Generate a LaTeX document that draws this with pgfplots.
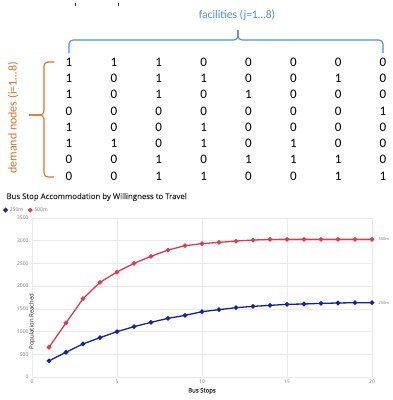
\documentclass[border=0pt]{standalone}
\usepackage{pgfplots}
\pgfplotsset{compat=1.18}
\usepackage{pgfplotstable}
\usepackage{fontspec}
\setmainfont{Carlito}
\newfontfamily\chartfont{Open Sans}
\newfontfamily\titlefont[FakeBold=0.6]{Open Sans}
\definecolor{facblue}{RGB}{74,144,210}
\definecolor{demor}{RGB}{221,113,40}
\definecolor{sblue}{RGB}{18,35,158}
\definecolor{sred}{RGB}{222,60,76}
\definecolor{txtgray}{RGB}{120,120,120}
\definecolor{titlegray}{RGB}{45,45,45}

\pgfplotstableread{
x y
1 355
2 545
3 728
4 866
5 998
6 1108
7 1203
8 1291
9 1357
10 1438
11 1482
12 1526
13 1555
14 1577
15 1600
16 1607
17 1621
18 1629
19 1636
20 1636
}\dataA

\pgfplotstableread{
x y
1 655
2 1190
3 1724
4 2084
5 2311
6 2502
7 2656
8 2795
9 2891
10 2934
11 2964
12 2993
13 3015
14 3028
15 3030
16 3030
17 3030
18 3030
19 3030
20 3030
}\dataB

\begin{document}
\begin{tikzpicture}[x=1pt,y=1pt]
\path[use as bounding box] (0,0) rectangle (393,-400);
% cut-off fragments at the top
\draw[titlegray, line width=0.8pt] (75,-3) -- (75,-6);
\draw[titlegray, line width=0.8pt] (118,-3) -- (118,-6);
% facilities label and brace
\node[facblue, font=\fontsize{11.5}{13}\selectfont] at (237,-15) {facilities (j=1…8)};
\draw[facblue, line width=1.1pt, rounded corners=4pt] (69,-53) -- (69,-40) -- (238,-40) -- (238,-30);
\draw[facblue, line width=1.1pt, rounded corners=4pt] (383,-53) -- (383,-40) -- (238,-40) -- (238,-30);
% demand nodes label and brace
\node[demor, rotate=90, font=\fontsize{12}{13}\selectfont] at (13,-118) {demand nodes (i=1…8)};
\draw[demor, line width=1.1pt, rounded corners=4pt] (54,-62) -- (44,-62) -- (44,-115) -- (29,-115);
\draw[demor, line width=1.1pt, rounded corners=4pt] (54,-177) -- (44,-177) -- (44,-115) -- (29,-115);
% matrix
\foreach \row [count=\i] in {{1,1,1,0,0,0,0,0},{1,0,1,1,0,0,1,0},{1,0,1,0,1,0,0,0},{0,0,0,0,0,0,0,1},{1,0,0,1,0,0,0,0},{1,1,0,1,0,1,0,0},{0,0,1,0,1,1,1,0},{0,0,1,1,0,0,1,1}}{
  \foreach \v [count=\j] in \row {
    \node[font=\fontsize{13}{14}\selectfont, text=black] at ({69+(\j-1)*44.86},{-62-(\i-1)*16.3}) {\v};
  }
}
% chart title
\node[anchor=west, font=\titlefont\fontsize{7.8}{9}\selectfont, text=titlegray] at (3,-197) {Bus Stop Accommodation by Willingness to Travel};
\begin{axis}[
  at={(32pt,-377pt)}, anchor=south west,
  scale only axis, width=340pt, height=159pt,
  xmin=0, xmax=20, ymin=0, ymax=3500,
  xtick={0,5,...,20}, ytick={0,500,...,3500},
  grid=major, grid style={draw=black!8, line width=0.5pt},
  axis line style={draw=none}, tick style={draw=none},
  ticklabel style={font=\chartfont\fontsize{5}{6}\selectfont, text=txtgray},
  /pgf/number format/assume math mode=true,
  /pgf/number format/1000 sep={},
  scaled y ticks=false,
  xticklabel style={yshift=1pt},
  clip=false,
  xlabel={Bus Stops}, ylabel={Population Reached},
  xlabel style={at={(axis description cs:0.5,0)}, anchor=center, yshift=-14pt, font=\titlefont\fontsize{6}{7}\selectfont, text=titlegray},
  ylabel style={at={(axis description cs:0,0.5)}, anchor=center, xshift=-24pt, font=\chartfont\fontsize{6}{7}\selectfont, text=titlegray},
  legend style={at={(axis description cs:-0.085,1.05)}, anchor=west, draw=none, fill=none, font=\chartfont\fontsize{5}{6}\selectfont, text=txtgray, inner sep=0pt},
  legend columns=2,
  legend cell align=left,
  /tikz/every even column/.append style={column sep=3pt},
  legend image code/.code={\fill[#1] (0.12cm,0pt) circle (1.6pt);},
]
\addplot[sblue, line width=1.3pt, mark=*, mark size=1.6pt] table {\dataA};
\addlegendentry{250m}
\addplot[sred, line width=1.3pt, mark=*, mark size=1.6pt] table {\dataB};
\addlegendentry{500m}
\node[anchor=west, font=\chartfont\fontsize{4}{5}\selectfont, text=txtgray] at (axis cs:20,3030) [xshift=3pt] {500m};
\node[anchor=west, font=\chartfont\fontsize{4}{5}\selectfont, text=txtgray] at (axis cs:20,1636) [xshift=3pt] {250m};
\end{axis}
\end{tikzpicture}
\end{document}
